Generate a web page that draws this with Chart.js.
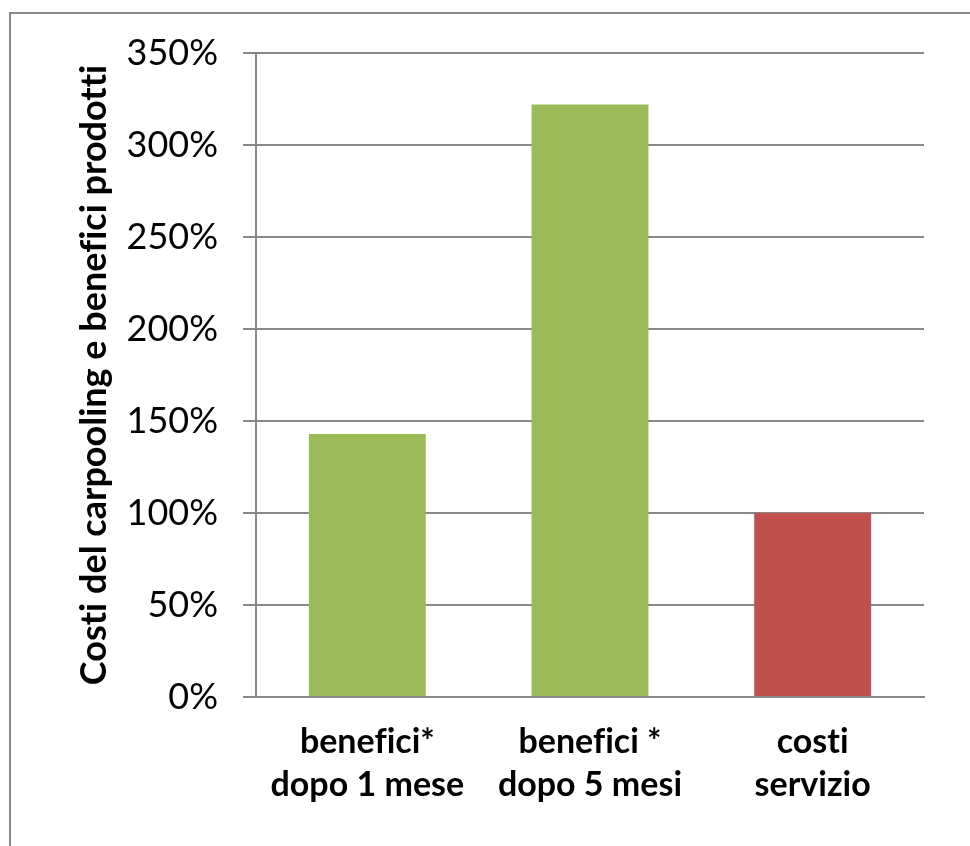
<!DOCTYPE html>
<html>
<head>
<meta charset="utf-8">
<script src="https://cdn.jsdelivr.net/npm/chart.js@4.4.0/dist/chart.umd.min.js"></script>
<style>
  html, body { margin: 0; padding: 0; background: #fff; }
  #wrap { width: 970px; height: 846px; }
</style>
</head>
<body>
<div id="wrap"><canvas id="costiChart" width="970" height="846"></canvas></div>
<script>
// chart data
const categories = [
    ['benefici*', 'dopo 1 mese'],
    ['benefici *', 'dopo 5 mesi'],
    ['costi', 'servizio']
];
const values = [143, 322, 100];
const barColors = ['#9BBB59', '#9BBB59', '#C0504D'];
const yTicks = [0, 50, 100, 150, 200, 250, 300, 350];
const yTitle = 'Costi del carpooling e benefici prodotti';

// gray frame around the whole picture
const framePlugin = {
    id: 'frame',
    beforeDraw(chart) {
        const c = chart.ctx;
        c.save();
        c.fillStyle = '#fff';
        c.fillRect(0, 0, chart.width, chart.height);
        c.strokeStyle = '#898989';
        c.lineWidth = 2;
        c.strokeRect(10, 13, chart.width + 20, chart.height + 20);
        c.restore();
    }
};

const ctx = document.getElementById('costiChart').getContext('2d');
ctx.canvas.style.fontVariantLigatures = 'none';
const costiChart = new Chart(ctx, {
    type: 'bar',
    data: {
        labels: categories,
        datasets: [{
            data: values,
            backgroundColor: barColors,
            borderWidth: 0,
            categoryPercentage: 1,
            barPercentage: 0.525
        }]
    },
    options: {
        responsive: false,
        animation: false,
        layout: {
            padding: { left: 60, right: 46, top: 53, bottom: 30 }
        },
        plugins: {
            legend: { display: false },
            tooltip: { enabled: false }
        },
        scales: {
            x: {
                grid: { display: false, drawTicks: false },
                border: { color: '#898989', width: 2 },
                ticks: {
                    color: '#000',
                    padding: 23,
                    font: { family: 'Lato', size: 34, weight: 'bold', lineHeight: 1.27 },
                    maxRotation: 0,
                    autoSkip: false
                },
                afterFit(scale) { scale.height = 846 - 697 - 30; }
            },
            y: {
                min: 0,
                max: 350,
                afterBuildTicks(scale) {
                    scale.ticks = yTicks.map(v => ({ value: v }));
                },
                grid: { color: '#898989', lineWidth: 2, tickLength: 13 },
                border: { color: '#898989', width: 2 },
                ticks: {
                    color: '#000',
                    padding: 25,
                    font: { family: 'Lato', size: 36 },
                    callback: v => v + '%'
                },
                title: {
                    display: true,
                    text: yTitle,
                    color: '#000',
                    font: { family: 'Lato', size: 36, weight: 'bold' },
                    padding: { top: 13, bottom: 0 }
                },
                afterFit(scale) { scale.width = 256 - 60; }
            }
        }
    },
    plugins: [framePlugin]
});
</script>
</body>
</html>
